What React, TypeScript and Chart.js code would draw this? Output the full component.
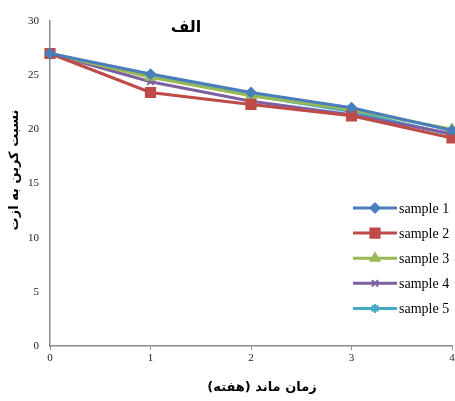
import React, { useEffect, useRef } from 'react';
import { Chart, registerables } from 'chart.js';
import { drawPoint } from 'chart.js/helpers';

Chart.register(...registerables);

// Storage time (weeks)
const weeks = [0, 1, 2, 3, 4];

// C/N ratio for each sample
const sample1 = [27, 25.1, 23.4, 22.0, 19.9];
const sample2 = [27, 23.4, 22.3, 21.25, 19.2];
const sample3 = [27, 24.8, 23.1, 21.8, 20.0];
const sample4 = [27, 24.4, 22.6, 21.35, 19.6];
const sample5 = [27, 24.95, 23.15, 21.65, 19.5];

const seriesNames = ['sample 1', 'sample 2', 'sample 3', 'sample 4', 'sample 5'];
const seriesValues = [sample1, sample2, sample3, sample4, sample5];
const seriesColors = ['#4A7EBB', '#BE4B48', '#98B954', '#7D60A0', '#46AAC5'];
const seriesMarkers = ['rectRot', 'rect', 'triangle', 'crossRot', 'star'];
const markerRadii = [4.5, 6.5, 5, 4.5, 4.5];

const yMin = 0;
const yMax = 30;
const yStep = 5;

const chartTitle = 'الف';
const xTitle = 'زمان ماند (هفته)';
const yTitle = 'نسبت کربن به ازت';

const ARABIC_FONT = "bold 13px 'DejaVu Sans', sans-serif";
const SERIF = "'Liberation Serif', 'Times New Roman', serif";
const RIGHT_GAP = 3;

// Keep the last week flush with the right side of the canvas
// (Chart.js otherwise reserves room for half of the last tick label).
const plotAreaFit = {
  id: 'plotAreaFit',
  afterLayout(chart: any) {
    const x = chart.scales.x;
    const target = chart.width - RIGHT_GAP;
    if (chart.chartArea.right !== target) {
      chart.chartArea.right = target;
      chart.chartArea.width = target - chart.chartArea.left;
      x.right = target;
      x.width = target - x.left;
      x.configure();
    }
  },
};

const annotations = {
  id: 'annotations',
  afterDraw(chart: any) {
    const { ctx, chartArea } = chart;
    ctx.save();

    // Panel title inside the plot
    ctx.direction = 'rtl';
    ctx.fillStyle = '#000';
    ctx.textAlign = 'center';
    ctx.textBaseline = 'middle';
    ctx.font = "bold 16px 'DejaVu Sans', sans-serif";
    ctx.fillText(chartTitle, chartArea.left + 136, chartArea.top + 7);

    // Axis titles
    ctx.font = ARABIC_FONT;
    ctx.fillText(xTitle, chartArea.left + 212, chartArea.bottom + 42);
    ctx.save();
    ctx.translate(15, chartArea.top + 149);
    ctx.rotate(-Math.PI / 2);
    ctx.fillText(yTitle, 0, 0);
    ctx.restore();

    // Legend in the lower right of the plot
    ctx.direction = 'ltr';
    ctx.textAlign = 'left';
    ctx.font = `14px ${SERIF}`;
    const lx = chartArea.right - 99;
    const ly = chartArea.top + 187;
    seriesNames.forEach((name, i) => {
      const y = ly + i * 25.1;
      const color = seriesColors[i];
      ctx.strokeStyle = color;
      ctx.lineWidth = 3;
      ctx.beginPath();
      ctx.moveTo(lx, y);
      ctx.lineTo(lx + 44, y);
      ctx.stroke();
      ctx.fillStyle = color;
      ctx.lineWidth = 2;
      drawPoint(ctx, { pointStyle: seriesMarkers[i], radius: markerRadii[i], rotation: 0, borderWidth: 2 }, lx + 22, y);
      ctx.fillStyle = '#000';
      ctx.fillText(name, lx + 46, y + 1);
    });

    ctx.restore();
  },
};

export default function App() {
  const canvasRef = useRef<HTMLCanvasElement>(null);

  useEffect(() => {
    document.body.style.margin = '0';
    const canvas = canvasRef.current;
    if (!canvas) return;

    const datasets = seriesNames.map((name, i) => ({
      label: name,
      data: weeks.map((w, j) => ({ x: w, y: seriesValues[i][j] })),
      borderColor: seriesColors[i],
      backgroundColor: seriesColors[i],
      borderWidth: 3,
      pointStyle: seriesMarkers[i] as any,
      pointRadius: markerRadii[i],
      pointBorderWidth: 2,
      pointBorderColor: seriesColors[i],
      pointBackgroundColor: seriesColors[i],
      tension: 0,
      clip: false as any,
    }));

    const chart = new Chart(canvas, {
      type: 'line',
      data: { datasets },
      plugins: [plotAreaFit, annotations],
      options: {
        animation: false,
        responsive: true,
        maintainAspectRatio: false,
        layout: { padding: { top: 21, right: RIGHT_GAP, left: 0, bottom: 0 } },
        plugins: {
          legend: { display: false },
          title: { display: false },
          tooltip: { enabled: false },
        },
        scales: {
          x: {
            type: 'linear',
            min: weeks[0],
            max: weeks[weeks.length - 1],
            ticks: {
              stepSize: 1,
              color: '#222',
              padding: 2,
              font: { family: SERIF, size: 11 },
            },
            grid: {
              display: true,
              drawOnChartArea: false,
              drawTicks: true,
              tickLength: 4,
              color: '#8a8a8a',
            },
            border: { display: true, color: '#8a8a8a', width: 1.5 },
            afterFit(scale: any) {
              scale.height = 55;
            },
          },
          y: {
            min: yMin,
            max: yMax,
            ticks: {
              stepSize: yStep,
              color: '#222',
              padding: 11,
              font: { family: SERIF, size: 11 },
            },
            grid: { display: false, drawTicks: false },
            border: { display: true, color: '#8a8a8a', width: 1.5 },
            afterFit(scale: any) {
              scale.width = 50;
              scale.paddingTop = 0;
              scale.paddingBottom = 0;
            },
          },
        },
      },
    });

    return () => chart.destroy();
  }, []);

  return (
    <div style={{ position: 'relative', width: 455, height: 401 }}>
      <canvas ref={canvasRef} />
    </div>
  );
}
